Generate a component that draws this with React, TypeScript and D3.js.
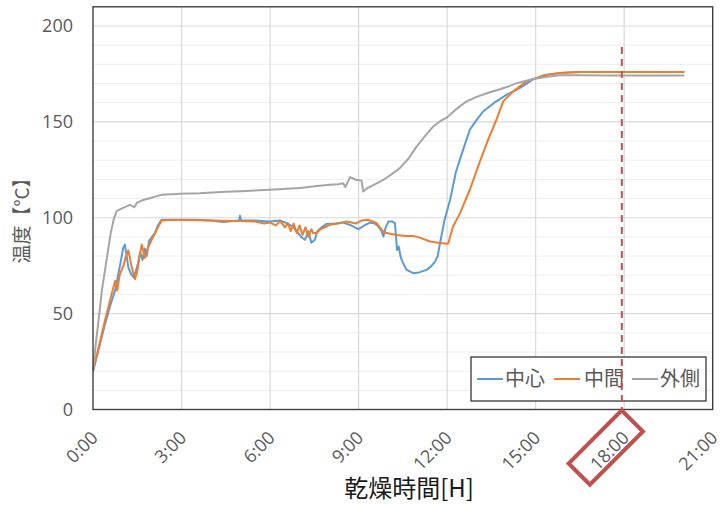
import React from 'react';
import * as d3 from 'd3';

// Drying-time temperature log: centre, middle and outer thermocouples (hours, °C)
const centerHours = [0, 0.2, 0.4, 0.6, 0.75, 0.85, 0.95, 1.02, 1.08, 1.14, 1.2, 1.28, 1.37, 1.45, 1.52, 1.6, 1.68, 1.75, 1.82, 1.9, 2.0, 2.1, 2.2, 2.33, 2.6, 3.0, 3.5, 4.0, 4.4, 4.95, 4.98, 5.02, 5.5, 6.0, 6.34, 6.6, 6.8, 6.95, 7.05, 7.18, 7.3, 7.4, 7.52, 7.6, 7.75, 7.92, 8.2, 8.48, 8.75, 8.99, 9.2, 9.38, 9.55, 9.67, 9.78, 9.84, 9.92, 10.01, 10.15, 10.23, 10.27, 10.3, 10.36, 10.42, 10.46, 10.55, 10.63, 10.85, 11.05, 11.3, 11.45, 11.59, 11.68, 11.76, 11.9, 12.1, 12.3, 12.54, 12.77, 13.0, 13.22, 13.6, 14.01, 14.5, 14.92, 15.4, 15.82, 16.5, 17.5, 18.5, 19.5, 20.04];
const centerTemps = [20, 32, 44, 55, 62, 70, 78, 84, 86, 80, 74, 71, 69, 72, 76, 82, 78, 84, 80, 88, 90, 92, 96, 99, 99, 99, 99, 98.5, 97.8, 98.5, 101, 98.5, 98.5, 98, 98.5, 97, 95, 92, 90, 88.5, 93, 87, 88.5, 93, 95, 96.8, 97, 97.5, 96, 94, 96, 97.5, 97, 95.4, 93, 90.2, 95, 98, 98, 97.2, 90, 83.2, 85, 80, 78, 75, 72.8, 71.1, 71.5, 72.8, 74.5, 77.1, 80, 86.7, 98, 109.3, 124, 135.4, 145.9, 151, 155.4, 160, 164.1, 168, 172.3, 174.5, 175.5, 176, 176, 176, 176, 176];

const middleHours = [0, 0.2, 0.4, 0.58, 0.68, 0.75, 0.82, 0.9, 1.03, 1.1, 1.2, 1.3, 1.42, 1.5, 1.58, 1.65, 1.76, 1.85, 1.99, 2.1, 2.2, 2.33, 2.6, 3, 4, 5, 5.5, 5.8, 6.0, 6.2, 6.34, 6.5, 6.6, 6.7, 6.8, 6.9, 7.0, 7.1, 7.2, 7.3, 7.4, 7.46, 7.58, 7.7, 7.85, 8.03, 8.3, 8.6, 8.9, 9.1, 9.33, 9.5, 9.61, 9.72, 9.84, 9.95, 10.1, 10.29, 10.6, 10.85, 11.1, 11.42, 11.7, 11.98, 12.04, 12.2, 12.44, 12.77, 13.11, 13.39, 13.67, 13.9, 14.24, 14.69, 14.92, 15.3, 15.82, 16.5, 17.5, 18.5, 19.5, 20.04];
const middleTemps = [20, 33, 46, 57, 63, 67, 62, 70, 75, 79, 83, 75, 68, 72, 80, 86, 79, 84, 88.5, 92, 95, 98.5, 98.8, 98.8, 98.5, 98.3, 98, 97, 97.5, 96, 98.5, 95, 97, 93, 97, 92, 96, 91, 95, 90, 94, 92, 92, 94, 95, 96.3, 97, 98, 97, 98.5, 98.9, 98, 97.2, 95, 92.8, 92, 91.5, 91, 90.5, 90.5, 89.5, 87.6, 87, 86.4, 86.7, 95.4, 102.4, 114.6, 129.3, 140.7, 151.1, 160.7, 165.9, 171.1, 172.3, 174.5, 175.5, 176, 176, 176, 176, 176];

const outerHours = [0, 0.1, 0.2, 0.3, 0.4, 0.5, 0.6, 0.7, 0.8, 1.0, 1.25, 1.4, 1.5, 1.59, 1.75, 1.93, 2.1, 2.33, 2.95, 3.62, 4.5, 5.2, 6.0, 7.0, 7.6, 8.03, 8.3, 8.48, 8.55, 8.71, 8.9, 9.1, 9.16, 9.3, 9.5, 9.84, 10.1, 10.4, 10.7, 10.97, 11.25, 11.53, 11.75, 11.98, 12.3, 12.65, 13.0, 13.4, 13.79, 14.1, 14.36, 14.65, 14.92, 15.4, 15.82, 16.5, 17.5, 18.5, 19.5, 20.04];
const outerTemps = [20, 35, 48, 62, 72, 82, 92, 99, 103.5, 105, 106.7, 105.5, 108, 108.5, 109.5, 110.2, 111, 112, 112.5, 112.8, 113.5, 114, 114.6, 115.5, 116.5, 117.2, 117.5, 118, 116, 121.2, 119.8, 119.4, 113.7, 115.5, 117, 119.8, 122.5, 125.9, 131, 137.2, 142.5, 147.6, 150.2, 152.2, 156.5, 160.6, 163, 165.2, 167, 168.6, 170.2, 171.3, 172.3, 173.5, 174.3, 174.3, 174.2, 174.2, 174.2, 174.2];

const seriesNames = ['中心', '中間', '外側'];
const seriesColors = ['#5B9BD5', '#ED7D31', '#A5A5A5'];

const yTicks = [0, 50, 100, 150, 200];
const xTickHours = [0, 3, 6, 9, 12, 15, 18, 21];
const xTickLabels = ['0:00', '3:00', '6:00', '9:00', '12:00', '15:00', '18:00', '21:00'];
const markerHour = 17.92;
const highlightedTick = '18:00';

const LATIN = "'Open Sans', 'Noto Sans CJK JP', sans-serif";
const CJK = "'Noto Sans CJK JP', 'Open Sans', sans-serif";

export default function App() {
  const x = d3.scaleLinear().domain([0, 21]).range([93, 712.7]);
  const y = d3.scaleLinear().domain([0, 210]).range([409.5, 6.8]);

  const series = [
    { hours: centerHours, temps: centerTemps },
    { hours: middleHours, temps: middleTemps },
    { hours: outerHours, temps: outerTemps },
  ];

  const line = d3
    .line<[number, number]>()
    .x((d) => x(d[0]))
    .y((d) => y(d[1]));

  const minorGrid = d3.range(10, 210, 10).filter((v) => v % 50 !== 0);
  const [x0, x1] = x.range();
  const [yb, yt] = y.range();

  const hlIndex = xTickLabels.indexOf(highlightedTick);
  const hlX = x(xTickHours[hlIndex]);

  // legend layout
  const legend = { x: 471, y: 357, w: 235, h: 44 };
  const legendItems = [
    { lx: 477, tx: 505 },
    { lx: 554, tx: 584 },
    { lx: 632, tx: 660 },
  ];

  return (
    <svg
      width={728}
      height={505}
      style={{ position: 'absolute', left: 0, top: 0, background: '#fff' }}
    >
      <rect x={0} y={0} width={728} height={505} fill="#fff" />

      {/* gridlines */}
      {minorGrid.map((v) => (
        <line key={'m' + v} x1={x0} x2={x1} y1={y(v)} y2={y(v)} stroke="#EEEEEE" strokeWidth={1} />
      ))}
      {yTicks.slice(1).map((v) => (
        <line key={'g' + v} x1={x0} x2={x1} y1={y(v)} y2={y(v)} stroke="#D9D9D9" strokeWidth={1.2} />
      ))}
      {xTickHours.slice(1, -1).map((h) => (
        <line key={'v' + h} x1={x(h)} x2={x(h)} y1={yt} y2={yb} stroke="#D9D9D9" strokeWidth={1.2} />
      ))}

      {/* data */}
      {series.map((s, i) => (
        <path
          key={seriesNames[i]}
          d={line(s.hours.map((h, j) => [h, s.temps[j]] as [number, number])) || ''}
          fill="none"
          stroke={seriesColors[i]}
          strokeWidth={2}
          strokeLinejoin="round"
        />
      ))}

      {/* plot frame */}
      <rect x={x0} y={yt} width={x1 - x0} height={yb - yt} fill="none" stroke="#404040" strokeWidth={1.4} />

      {/* y axis */}
      {yTicks.map((v) => (
        <text
          key={'yt' + v}
          x={73}
          y={y(v)}
          dy="0.36em"
          textAnchor="end"
          fontFamily={LATIN}
          fontSize={18}
          fill="#595959"
        >
          {v}
        </text>
      ))}
      <text
        transform={`translate(29, 216) rotate(-90)`}
        textAnchor="middle"
        fontFamily={CJK}
        fontSize={19}
        fill="#595959"
      >
        温度【°C】
      </text>

      {/* x axis */}
      {xTickHours.map((h, i) => (
        <text
          key={'xt' + h}
          transform={`translate(${x(h) + 6}, 439) rotate(-45)`}
          textAnchor="end"
          fontFamily={LATIN}
          fontSize={18}
          fill="#595959"
        >
          {xTickLabels[i]}
        </text>
      ))}
      <text x={409} y={497} textAnchor="middle" fontFamily={CJK} fontSize={24} fill="#1a1a1a">
        乾燥時間[H]
      </text>

      {/* legend */}
      <rect x={legend.x} y={legend.y} width={legend.w} height={legend.h} fill="#fff" stroke="#262626" strokeWidth={1.2} />
      {legendItems.map((it, i) => (
        <g key={'lg' + i}>
          <line
            x1={it.lx}
            x2={it.lx + 26}
            y1={legend.y + 22}
            y2={legend.y + 22}
            stroke={seriesColors[i]}
            strokeWidth={2}
          />
          <text x={it.tx} y={legend.y + 22} dy="0.36em" fontFamily={CJK} fontSize={20} fill="#595959">
            {seriesNames[i]}
          </text>
        </g>
      ))}

      {/* marker at the end of drying */}
      <line
        x1={x(markerHour)}
        x2={x(markerHour)}
        y1={47}
        y2={yb}
        stroke="#C0504D"
        strokeWidth={2}
        strokeDasharray="7 5"
      />
      <rect
        x={-37.5}
        y={-15}
        width={75}
        height={30}
        fill="none"
        stroke="#C0504D"
        strokeWidth={4}
        transform={`translate(${hlX - 18.4}, 447.5) rotate(-45)`}
      />
    </svg>
  );
}
